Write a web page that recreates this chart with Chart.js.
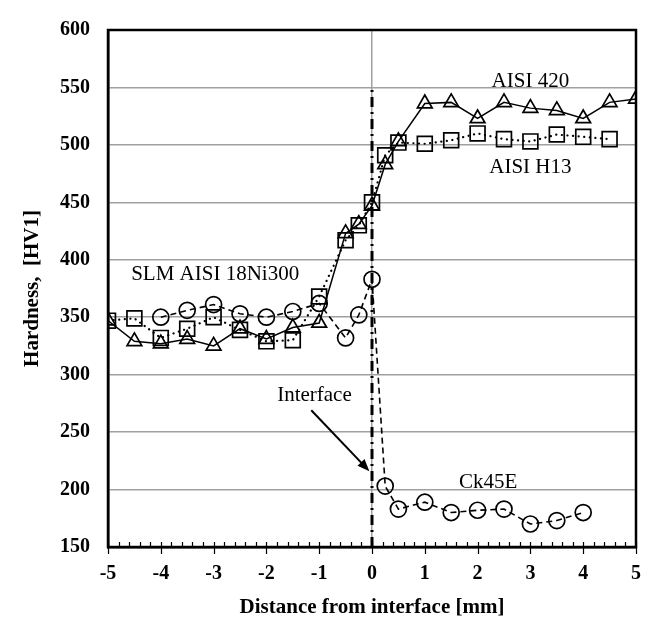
<!DOCTYPE html>
<html>
<head>
<meta charset="utf-8">
<script src="https://cdn.jsdelivr.net/npm/chart.js@4"></script>
<style>
  body { margin: 0; background: #fff; }
  #wrap { width: 656px; height: 620px; }
</style>
</head>
<body>
<div id="wrap"><canvas id="chart" width="656" height="620"></canvas></div>
<script>
// distances [mm]
const xAisi420 = [-5, -4.5, -4, -3.5, -3, -2.5, -2, -1.5, -1, -0.5, -0.25, 0, 0.25, 0.5, 1, 1.5, 2, 2.5, 3, 3.5, 4, 4.5, 5];
const hvAisi420 = [347, 329, 327, 331, 325, 340, 331, 341, 345, 423, 431, 447, 483, 503, 536, 537, 523, 537, 532, 530, 523, 537, 540];

const xH13 = [-5, -4.5, -4, -3.5, -3, -2.5, -2, -1.5, -1, -0.5, -0.25, 0, 0.25, 0.5, 1, 1.5, 2, 2.5, 3, 3.5, 4, 4.5];
const hvH13 = [347, 349, 332, 340, 350, 339, 329, 330, 368, 417, 430, 450, 491, 502, 501, 504, 510, 505, 503, 509, 507, 505];

const xCk45 = [-4, -3.5, -3, -2.5, -2, -1.5, -1, -0.5, -0.25, 0, 0.25, 0.5, 1, 1.5, 2, 2.5, 3, 3.5, 4];
const hvCk45 = [350, 356, 361, 353, 350, 355, 362, 332, 352, 383, 203, 183, 189, 180, 182, 183, 170, 173, 180];

// interface marker line
const xInterface = [0, 0];
const hvInterface = [150, 550];

const xTicks = [-5, -4, -3, -2, -1, 0, 1, 2, 3, 4, 5];

// text labels, in data units
const labelText = ['AISI 420', 'AISI H13', 'SLM AISI 18Ni300', 'Interface', 'Ck45E'];
const labelX = [3.0, 3.0, -2.97, -1.09, 2.2];
const labelY = [555, 480, 387, 282, 206];

// arrow (data units): from -> to
const arrowFrom = [-1.15, 269];
const arrowTo = [-0.05, 216];

const serif = '"Liberation Serif", "Times New Roman", serif';

function toPoints(xs, ys) {
    return xs.map((x, i) => ({ x: x, y: ys[i] }));
}

const ctx = document.querySelector('#chart').getContext('2d');

const extras = {
    id: 'extras',
    afterDatasetsDraw(chart) {
        const c = chart.ctx;
        const xs = chart.scales.x;
        const ys = chart.scales.y;
        const area = chart.chartArea;
        c.save();

        // frame
        c.strokeStyle = '#000';
        c.lineWidth = 2.5;
        c.strokeRect(area.left, area.top, area.right - area.left, area.bottom - area.top);

        // x ticks: majors cross the axis, minors point inward
        c.lineWidth = 1.2;
        c.beginPath();
        for (let i = 0; i <= 50; i++) {
            const v = -5 + i * 0.2;
            const px = Math.round(xs.getPixelForValue(v)) + 0.5;
            if (i % 5 === 0) {
                c.moveTo(px, area.bottom - 5);
                c.lineTo(px, area.bottom + 7);
            } else {
                c.moveTo(px, area.bottom - 5);
                c.lineTo(px, area.bottom);
            }
        }
        c.stroke();

        // labels
        c.fillStyle = '#000';
        c.font = '21px ' + serif;
        c.textAlign = 'center';
        c.textBaseline = 'middle';
        labelText.forEach((t, i) => {
            c.fillText(t, xs.getPixelForValue(labelX[i]), ys.getPixelForValue(labelY[i]));
        });

        // arrow
        const x0 = xs.getPixelForValue(arrowFrom[0]);
        const y0 = ys.getPixelForValue(arrowFrom[1]);
        const x1 = xs.getPixelForValue(arrowTo[0]);
        const y1 = ys.getPixelForValue(arrowTo[1]);
        const ang = Math.atan2(y1 - y0, x1 - x0);
        const head = 13;
        c.lineWidth = 2;
        c.beginPath();
        c.moveTo(x0, y0);
        c.lineTo(x1 - Math.cos(ang) * head * 0.8, y1 - Math.sin(ang) * head * 0.8);
        c.stroke();
        c.beginPath();
        c.moveTo(x1, y1);
        c.lineTo(x1 - head * Math.cos(ang - 0.38), y1 - head * Math.sin(ang - 0.38));
        c.lineTo(x1 - head * Math.cos(ang + 0.38), y1 - head * Math.sin(ang + 0.38));
        c.closePath();
        c.fill();
        c.restore();
    }
};

const chart = new Chart(ctx, {
    type: 'scatter',
    data: {
        datasets: [
            {
                label: 'Interface',
                data: toPoints(xInterface, hvInterface),
                showLine: true,
                borderColor: '#000',
                borderWidth: 3,
                borderDash: [10, 5, 2, 5],
                pointRadius: 0,
                order: 4
            },
            {
                label: 'AISI 420',
                data: toPoints(xAisi420, hvAisi420),
                showLine: true,
                borderColor: '#000',
                borderWidth: 1.5,
                pointStyle: 'triangle',
                pointRadius: 8.5,
                pointBorderWidth: 1.7,
                pointBorderColor: '#000',
                pointBackgroundColor: 'rgba(0,0,0,0)',
                order: 1
            },
            {
                label: 'AISI H13',
                data: toPoints(xH13, hvH13),
                showLine: true,
                borderColor: '#000',
                borderWidth: 2.2,
                borderDash: [0.1, 5.5],
                borderCapStyle: 'round',
                pointStyle: 'rect',
                pointRadius: 10.5,
                pointBorderWidth: 1.7,
                pointBorderColor: '#000',
                pointBackgroundColor: 'rgba(0,0,0,0)',
                order: 2
            },
            {
                label: 'SLM AISI 18Ni300 / Ck45E',
                data: toPoints(xCk45, hvCk45),
                showLine: true,
                borderColor: '#000',
                borderWidth: 1.6,
                borderDash: [6, 4],
                pointStyle: 'circle',
                pointRadius: 8,
                pointBorderWidth: 1.7,
                pointBorderColor: '#000',
                pointBackgroundColor: 'rgba(0,0,0,0)',
                order: 3
            }
        ]
    },
    options: {
        responsive: false,
        animation: false,
        layout: { padding: { top: 22, right: 16, left: 0, bottom: 0 } },
        plugins: {
            legend: { display: false },
            tooltip: { enabled: false }
        },
        scales: {
            x: {
                type: 'linear',
                min: -5,
                max: 5,
                afterFit: (scale) => { scale.height = 73; },
                afterBuildTicks: (scale) => { scale.ticks = xTicks.map(v => ({ value: v })); },
                grid: {
                    drawTicks: false,
                    lineWidth: 1.5,
                    color: (c) => (c.tick && c.tick.value === 0) ? '#a0a0a0' : 'rgba(0,0,0,0)'
                },
                border: { display: true, color: '#000', width: 2.5 },
                ticks: {
                    padding: 15,
                    color: '#000',
                    font: { family: serif, size: 20, weight: 'bold' }
                },
                title: {
                    display: true,
                    text: 'Distance from interface [mm]',
                    color: '#000',
                    font: { family: serif, size: 21, weight: 'bold' },
                    padding: { top: 0, bottom: 0 }
                }
            },
            y: {
                min: 150,
                max: 600,
                afterFit: (scale) => { scale.width = 108; },
                grid: {
                    drawTicks: false,
                    lineWidth: 1.5,
                    color: '#a0a0a0'
                },
                border: { display: true, color: '#000', width: 2.5 },
                ticks: {
                    stepSize: 50,
                    padding: 18,
                    color: '#000',
                    font: { family: serif, size: 20, weight: 'bold' }
                },
                title: {
                    display: true,
                    text: 'Hardness,  [HV1]',
                    color: '#000',
                    font: { family: serif, size: 21, weight: 'bold' },
                    padding: { top: 20, bottom: 0 }
                }
            }
        }
    },
    plugins: [extras]
});
</script>
</body>
</html>
